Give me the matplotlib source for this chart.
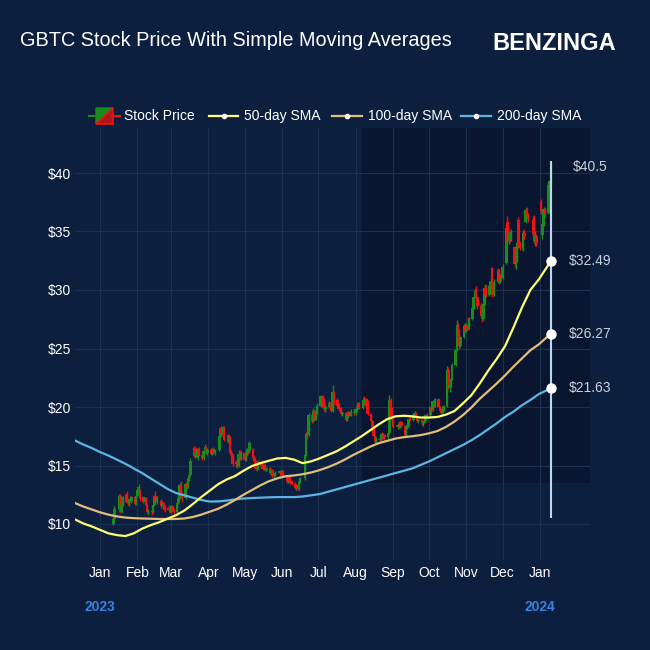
import matplotlib
matplotlib.use("Agg")
import matplotlib.pyplot as plt
import matplotlib.dates as mdates
import matplotlib.patches as mpatches
import pandas as pd

plt.rcParams['font.family'] = ['Liberation Sans', 'DejaVu Sans']

# ---------------- DATA ----------------
HOLIDAYS = ['2023-01-16', '2023-02-20', '2023-04-07', '2023-05-29', '2023-06-19',
            '2023-07-04', '2023-09-04', '2023-11-23', '2023-12-25', '2024-01-01']

# daily candles (open, high, low, close)
c2301 = [(10.0, 10.6, 9.9, 10.4), (10.4, 11.5, 10.3, 11.3), (11.3, 12.6, 11.2, 12.4), (12.4, 12.6, 10.9, 11.0),
         (11.0, 11.7, 10.9, 11.6), (11.6, 12.4, 11.5, 12.3), (12.6, 12.8, 11.8, 11.9), (11.9, 12.1, 11.6, 11.8),
         (11.8, 12.2, 11.5, 12.1), (12.1, 12.4, 11.9, 12.0), (12.0, 12.4, 11.8, 12.3), (12.3, 12.4, 11.6, 11.7),
         (11.7, 12.5, 11.6, 12.4)]
c2302 = [(12.4, 13.0, 12.3, 12.9), (12.9, 13.4, 12.7, 13.2), (12.9, 13.0, 12.0, 12.1), (12.3, 12.4, 11.8, 11.9),
         (11.9, 12.3, 11.8, 12.2), (12.2, 12.3, 11.5, 11.6), (11.6, 11.7, 10.9, 11.0), (11.0, 11.3, 10.8, 11.1),
         (11.1, 11.5, 10.8, 11.0), (11.0, 11.7, 10.9, 11.6), (11.6, 12.5, 11.5, 12.4), (12.4, 12.8, 11.8, 11.9),
         (11.9, 12.4, 11.7, 12.3), (12.0, 12.1, 11.4, 11.5), (11.5, 11.9, 11.3, 11.8), (11.8, 11.9, 11.3, 11.4),
         (11.4, 11.6, 11.0, 11.1), (11.4, 11.6, 11.0, 11.2), (11.2, 11.5, 10.9, 11.0)]
c2303 = [(11.0, 11.6, 10.9, 11.5), (11.5, 11.6, 11.1, 11.2), (11.2, 11.4, 10.8, 11.0), (11.0, 11.9, 10.9, 11.8),
         (11.8, 12.4, 11.7, 12.2), (12.2, 13.5, 12.1, 13.3), (13.3, 13.7, 12.4, 12.5), (12.5, 12.7, 11.9, 12.2),
         (12.2, 13.6, 12.1, 13.4), (13.4, 13.8, 13.0, 13.2), (13.2, 14.0, 13.1, 13.9), (13.9, 14.4, 13.7, 14.2),
         (14.2, 15.6, 14.1, 15.4), (16.5, 16.7, 15.7, 15.8), (15.8, 16.2, 15.6, 16.0), (16.4, 16.6, 15.9, 16.0),
         (15.6, 16.5, 15.5, 16.4), (16.4, 16.6, 15.8, 15.9), (15.9, 16.0, 15.5, 15.6), (15.6, 16.3, 15.5, 16.2),
         (16.2, 16.8, 16.1, 16.6), (16.6, 16.7, 16.0, 16.1), (16.1, 16.5, 15.9, 16.3)]
c2304 = [(16.3, 16.5, 15.9, 16.0), (16.0, 16.5, 15.9, 16.4), (16.4, 16.6, 16.0, 16.1), (16.1, 16.4, 15.9, 16.3),
         (16.3, 17.6, 16.2, 17.5), (17.5, 18.4, 17.4, 18.2), (18.2, 18.3, 17.6, 17.8), (17.8, 18.4, 17.7, 18.3),
         (18.3, 18.4, 17.1, 17.2), (17.6, 17.7, 16.9, 17.0), (17.0, 17.6, 16.9, 17.4), (17.4, 17.5, 16.0, 16.1),
         (16.1, 16.3, 15.8, 15.9), (15.9, 16.0, 15.0, 15.1), (15.1, 15.5, 14.9, 15.3), (15.3, 15.4, 14.8, 15.0),
         (15.0, 16.3, 14.9, 16.0), (16.0, 16.3, 15.5, 15.6), (15.6, 16.2, 15.5, 16.1)]
c2305 = [(16.1, 16.2, 15.4, 15.5), (15.5, 16.1, 15.4, 16.0), (16.0, 16.5, 15.9, 16.4), (16.4, 16.5, 16.0, 16.2),
         (16.2, 17.1, 16.1, 16.9), (16.4, 16.5, 15.5, 15.6), (15.6, 15.8, 15.2, 15.4), (15.4, 15.5, 14.6, 14.7),
         (14.7, 15.0, 14.5, 14.8), (14.8, 15.5, 14.7, 15.3), (15.3, 15.5, 14.9, 15.0), (15.0, 15.1, 14.6, 14.7),
         (14.7, 15.1, 14.6, 15.0), (15.0, 15.1, 14.5, 14.6), (14.6, 14.9, 14.5, 14.8), (14.8, 14.9, 14.3, 14.4),
         (14.4, 14.7, 14.2, 14.6), (14.6, 14.7, 14.0, 14.1), (14.1, 14.3, 13.9, 14.2), (14.2, 14.5, 14.1, 14.4),
         (14.4, 14.6, 14.2, 14.5), (14.5, 14.6, 14.1, 14.2)]
c2306 = [(14.2, 14.6, 14.1, 14.5), (14.5, 14.6, 14.0, 14.1), (14.1, 14.2, 13.5, 13.6), (13.6, 14.1, 13.5, 14.0),
         (14.0, 14.1, 13.6, 13.7), (13.7, 13.9, 13.4, 13.5), (13.5, 13.8, 13.3, 13.4), (13.4, 13.6, 13.0, 13.1),
         (13.1, 13.4, 12.9, 13.3), (13.3, 13.4, 12.9, 13.0), (13.0, 13.8, 12.9, 13.7), (13.7, 14.0, 13.5, 13.9),
         (13.9, 16.0, 13.8, 15.9), (15.9, 17.9, 15.8, 17.7), (17.7, 18.2, 17.3, 17.6), (17.6, 19.5, 17.5, 19.3),
         (19.3, 19.5, 18.6, 18.8), (18.8, 19.9, 18.7, 19.7), (19.7, 19.8, 18.9, 19.0), (19.0, 19.8, 18.9, 19.6),
         (19.6, 20.3, 19.4, 20.1)]
c2307 = [(20.1, 21.0, 20.0, 20.9), (20.9, 21.0, 19.9, 20.0), (20.6, 20.8, 19.7, 19.8), (19.8, 20.2, 19.6, 20.0),
         (20.0, 20.5, 19.9, 20.3), (20.3, 20.4, 19.8, 20.0), (20.0, 20.2, 19.6, 19.7), (19.7, 21.9, 19.6, 21.3),
         (21.3, 21.4, 20.2, 20.4), (20.6, 20.8, 20.0, 20.1), (20.1, 20.3, 19.7, 19.8), (19.8, 20.0, 19.5, 19.9),
         (19.9, 20.0, 19.3, 19.4), (19.4, 19.7, 19.2, 19.5), (19.5, 19.6, 18.8, 18.9), (18.9, 19.4, 18.8, 19.2),
         (19.2, 19.7, 19.1, 19.6), (19.6, 19.7, 19.2, 19.3), (19.3, 19.8, 19.2, 19.6), (19.6, 19.8, 19.3, 19.5)]
c2308 = [(19.5, 19.9, 19.3, 19.8), (19.8, 20.2, 19.6, 20.0), (20.0, 20.4, 19.8, 20.3), (20.3, 20.4, 19.8, 19.9),
         (19.9, 20.7, 19.8, 20.6), (20.8, 20.9, 20.2, 20.3), (20.3, 20.8, 20.2, 20.7), (20.7, 20.8, 20.0, 20.1),
         (20.1, 20.6, 19.3, 19.4), (19.4, 19.5, 18.7, 18.8), (18.8, 18.9, 18.2, 18.3), (18.3, 18.4, 17.4, 17.5),
         (17.5, 17.6, 16.9, 17.0), (17.0, 17.4, 16.9, 17.3), (17.3, 17.5, 17.0, 17.2), (17.2, 17.8, 17.1, 17.7),
         (17.7, 17.9, 17.3, 17.4), (17.4, 17.8, 17.3, 17.6), (17.6, 17.7, 17.2, 17.4), (17.4, 17.9, 17.3, 17.8),
         (17.8, 21.0, 17.7, 20.6), (20.6, 20.8, 19.8, 19.9), (19.9, 20.0, 18.8, 18.9)]
c2309 = [(18.9, 19.0, 18.2, 18.3), (18.3, 18.6, 18.1, 18.5), (18.5, 18.7, 18.2, 18.3), (18.3, 18.8, 18.2, 18.7),
         (18.7, 18.8, 18.3, 18.4), (18.4, 18.5, 17.5, 17.6), (17.6, 18.4, 17.5, 18.2), (18.2, 18.6, 18.1, 18.5),
         (18.5, 19.1, 18.4, 19.0), (19.0, 19.2, 18.8, 18.9), (18.9, 19.5, 18.8, 19.3), (19.3, 19.7, 19.2, 19.5),
         (19.5, 19.6, 19.1, 19.2), (19.2, 19.3, 18.7, 18.8), (18.8, 19.0, 18.6, 18.9), (18.9, 19.0, 18.5, 18.6),
         (18.6, 18.8, 18.4, 18.7), (18.7, 19.0, 18.6, 18.8), (18.8, 19.4, 18.7, 19.3), (19.3, 19.5, 19.1, 19.2)]
c2310 = [(19.3, 20.1, 19.2, 20.0), (20.0, 20.1, 19.7, 19.8), (19.8, 20.6, 19.7, 20.5), (20.5, 20.6, 20.0, 20.1),
         (20.1, 20.8, 20.0, 20.7), (20.7, 20.8, 19.9, 20.0), (20.0, 20.1, 19.6, 19.7), (19.7, 19.8, 19.4, 19.5),
         (19.5, 19.9, 19.4, 19.8), (19.8, 20.2, 19.7, 20.1), (20.1, 23.5, 20.0, 23.2), (23.2, 23.4, 21.5, 21.6),
         (21.6, 22.0, 21.3, 21.8), (21.8, 22.5, 21.7, 22.4), (22.4, 23.8, 22.3, 23.6), (23.6, 25.1, 23.5, 24.9),
         (24.9, 27.4, 24.8, 27.0), (27.0, 27.2, 25.8, 26.0), (26.6, 26.7, 25.0, 25.2), (25.2, 26.1, 25.1, 26.0),
         (26.0, 27.1, 25.9, 26.9), (26.9, 27.2, 26.3, 26.5)]
c2311 = [(26.5, 27.2, 26.4, 27.0), (27.0, 27.7, 26.6, 26.8), (26.8, 27.7, 26.7, 27.5), (27.5, 28.7, 27.4, 28.5),
         (28.5, 29.6, 28.4, 29.4), (29.4, 30.1, 29.3, 29.9), (30.1, 30.3, 29.2, 29.4), (29.4, 29.5, 28.4, 28.6),
         (28.6, 28.9, 27.6, 27.8), (27.8, 28.0, 27.3, 27.5), (27.5, 29.0, 27.4, 28.8), (28.8, 30.5, 28.7, 30.2),
         (30.2, 30.4, 29.4, 29.6), (29.6, 30.5, 29.5, 30.3), (30.3, 31.0, 30.1, 30.8), (31.9, 32.0, 29.4, 29.6),
         (29.6, 30.9, 29.5, 30.7), (30.7, 31.9, 30.6, 31.7), (31.7, 31.8, 30.5, 30.7), (30.7, 31.4, 30.6, 31.2),
         (31.2, 31.6, 30.8, 31.0)]
c2312 = [(31.0, 32.2, 30.9, 32.0), (32.3, 35.6, 32.2, 35.3), (35.8, 36.3, 34.0, 34.2), (34.2, 35.0, 33.9, 34.8),
         (34.8, 35.1, 34.1, 34.3), (34.3, 35.2, 34.2, 35.0), (33.7, 33.8, 32.0, 32.2), (32.2, 32.8, 31.8, 32.5),
         (32.5, 34.2, 32.4, 34.0), (36.0, 36.2, 33.6, 33.8), (33.8, 34.2, 33.4, 33.6), (33.4, 35.1, 33.3, 34.9),
         (34.9, 35.2, 34.4, 34.6), (35.8, 37.0, 35.7, 36.8), (36.8, 37.1, 36.2, 36.4), (36.4, 36.6, 35.8, 36.0),
         (36.0, 36.3, 34.6, 34.8), (36.2, 36.4, 34.0, 34.2), (34.2, 35.0, 33.8, 34.6), (34.6, 34.8, 33.8, 34.0)]
c2401 = [(37.5, 37.8, 36.5, 36.7), (34.7, 35.8, 34.4, 35.6), (35.6, 37.1, 35.5, 36.9), (36.9, 37.0, 36.3, 36.6),
         (36.6, 39.2, 36.5, 39.0), (38.0, 39.5, 37.6, 39.3), (39.3, 40.9, 39.0, 40.5)]

MONTHS = [("2023-01-12", "2023-01-31", c2301), ("2023-02-01", "2023-02-28", c2302),
          ("2023-03-01", "2023-03-31", c2303), ("2023-04-01", "2023-04-30", c2304),
          ("2023-05-01", "2023-05-31", c2305), ("2023-06-01", "2023-06-30", c2306),
          ("2023-07-01", "2023-07-31", c2307), ("2023-08-01", "2023-08-31", c2308),
          ("2023-09-01", "2023-09-30", c2309), ("2023-10-01", "2023-10-31", c2310),
          ("2023-11-01", "2023-11-30", c2311), ("2023-12-01", "2023-12-31", c2312),
          ("2024-01-01", "2024-01-10", c2401)]

# simple moving averages, sampled weekly from 2022-12-11, plus the last day 2024-01-10
sma50 = [10.4, 10.05, 9.8, 9.5, 9.2, 9.05, 8.97, 9.2, 9.6, 9.9,
         10.15, 10.45, 10.75, 11.15, 11.7, 12.3, 12.85, 13.4, 13.8, 14.1,
         14.55, 14.95, 15.2, 15.4, 15.6, 15.65, 15.5, 15.2, 15.35, 15.6,
         15.9, 16.2, 16.6, 17.05, 17.5, 18.0, 18.5, 18.95, 19.2, 19.25,
         19.2, 19.1, 19.1, 19.15, 19.35, 19.65, 20.3, 21.0, 22.0, 23.1,
         24.1, 25.2, 26.8, 28.5, 30.0, 30.9, 32.0, 32.49]
sma100 = [11.8, 11.5, 11.25, 11.0, 10.8, 10.65, 10.55, 10.5, 10.47, 10.45,
          10.43, 10.43, 10.43, 10.47, 10.6, 10.8, 11.05, 11.3, 11.65, 12.05,
          12.5, 12.9, 13.3, 13.65, 13.9, 14.08, 14.15, 14.25, 14.4, 14.6,
          14.85, 15.15, 15.5, 15.9, 16.25, 16.6, 16.9, 17.1, 17.3, 17.42,
          17.5, 17.6, 17.75, 17.95, 18.3, 18.75, 19.3, 19.95, 20.7, 21.35,
          22.0, 22.7, 23.45, 24.15, 24.85, 25.35, 26.0, 26.27]
sma200 = [17.15, 16.8, 16.5, 16.15, 15.85, 15.5, 15.15, 14.75, 14.35, 13.9,
          13.45, 13.0, 12.65, 12.45, 12.25, 12.05, 11.92, 11.93, 12.0, 12.1,
          12.18, 12.22, 12.25, 12.28, 12.3, 12.3, 12.3, 12.35, 12.45, 12.55,
          12.75, 12.95, 13.15, 13.35, 13.55, 13.75, 13.95, 14.15, 14.35, 14.55,
          14.75, 15.05, 15.35, 15.7, 16.05, 16.4, 16.75, 17.15, 17.6, 18.1,
          18.6, 19.15, 19.6, 20.15, 20.6, 21.1, 21.45, 21.63]
sma_dates = list(pd.date_range("2022-12-11", periods=57, freq="7D")) + [pd.Timestamp("2024-01-10")]

last_close = 40.5
labels_right = ["$40.5", "$32.49", "$26.27", "$21.63"]
month_ticks = pd.date_range("2023-01-01", "2024-01-01", freq="MS")
month_labels = [d.strftime("%b") for d in month_ticks]
year_labels = [("2023", "2023-01-01"), ("2024", "2024-01-01")]
yticks = [10, 15, 20, 25, 30, 35, 40]

# ---------------- STYLE ----------------
BG = "#0c1f3e"
SHADE = "#0a1630"
GRID = "#1b2f4f"
GREEN = "#1b8c1b"
RED = "#f01212"
C50 = "#ffff70"
C100 = "#e3bd7c"
C200 = "#5cb6e2"
W, H = 650, 650

fig = plt.figure(figsize=(6.5, 6.5), dpi=100, facecolor=BG)


def fx(x):
    return x / W


def fy(y):
    return 1 - y / H


ax_l, ax_r, ax_t, ax_b = 75, 590, 128, 560
ax = fig.add_axes([fx(ax_l), fy(ax_b), (ax_r - ax_l) / W, (ax_b - ax_t) / H])
ax.set_facecolor(BG)
for s in ax.spines.values():
    s.set_visible(False)

# axis scaling
jan1 = mdates.date2num(pd.Timestamp("2023-01-01"))
PX_PER_DAY = 440 / 365.0
x0 = jan1 + (ax_l - 100) / PX_PER_DAY
x1 = jan1 + (ax_r - 100) / PX_PER_DAY
PX_PER_USD = 11.7
ylo = 10 - (ax_b - 524) / PX_PER_USD
yhi = 10 + (524 - ax_t) / PX_PER_USD
ax.set_xlim(x0, x1)
ax.set_ylim(ylo, yhi)

# shaded recent region
shade_start = mdates.date2num(pd.Timestamp("2023-08-06"))
ax.add_patch(mpatches.Rectangle((shade_start, 13.5), x1 - shade_start, yhi - 13.5,
                                facecolor=SHADE, edgecolor="none", zorder=0))

# grid
ax.set_xticks([mdates.date2num(d) for d in month_ticks])
ax.set_xticklabels(month_labels)
ax.set_yticks(yticks)
ax.set_yticklabels([f"${v}" for v in yticks])
ax.grid(True, color=GRID, linewidth=0.8, zorder=1)
ax.set_axisbelow(True)
ax.tick_params(axis="both", length=0, colors="white", labelsize=10)
ax.tick_params(axis="y", pad=3)
ax.tick_params(axis="x", pad=4)

# candles
dates, opens, highs, lows, closes = [], [], [], [], []
for start, end, rows in MONTHS:
    ds = pd.bdate_range(start, end, freq="C", holidays=HOLIDAYS)
    for d, (o, h, l, c) in zip(ds, rows):
        dates.append(mdates.date2num(d))
        opens.append(o); highs.append(h); lows.append(l); closes.append(c)

cols = [GREEN if c >= o else RED for o, c in zip(opens, closes)]
ax.vlines(dates, lows, highs, colors=cols, linewidth=1.0, zorder=3)
bottoms = [min(o, c) for o, c in zip(opens, closes)]
heights = [max(abs(c - o), 0.08) for o, c in zip(opens, closes)]
ax.bar(dates, heights, bottom=bottoms, width=2.1, color=cols, linewidth=0, zorder=3)

# moving averages
sd = [mdates.date2num(d) for d in sma_dates]
ax.plot(sd, sma200, color=C200, lw=1.6, zorder=4, solid_capstyle="round")
ax.plot(sd, sma100, color=C100, lw=1.6, zorder=4, solid_capstyle="round")
ax.plot(sd, sma50, color=C50, lw=1.6, zorder=4, solid_capstyle="round")

# vertical marker line at last date
xl = sd[-1]
ax.plot([xl, xl], [10.5, 41.0], color="#bcd6ec", lw=1.5, zorder=5, solid_capstyle="butt")
ax.plot([xl] * 3, [sma50[-1], sma100[-1], sma200[-1]], "o", ms=6.5, color="white",
        markeredgecolor="white", zorder=6)

# right-hand labels
for lab, val in zip(labels_right, [last_close, sma50[-1], sma100[-1], sma200[-1]]):
    ax.text(x1, val, lab, color="#c9d1dc", fontsize=10, ha="center", va="center",
            clip_on=False, zorder=7)

# year labels
for lab, d in year_labels:
    xd = mdates.date2num(pd.Timestamp(d))
    xp = ax_l + (xd - x0) * PX_PER_DAY
    fig.text(fx(xp), fy(607), lab, color="#3b7fe0", fontsize=10, fontweight="bold",
             ha="center", va="center")

# title + brand
fig.text(fx(20), fy(41), "GBTC Stock Price With Simple Moving Averages", color="white",
         fontsize=14.3, ha="left", va="center")
fig.text(fx(554), fy(44), "BENZINGA", color="white", fontsize=17, fontweight="bold",
         ha="center", va="center")

# legend (drawn manually)
ly = 116
fig.add_artist(plt.Line2D([fx(89), fx(97)], [fy(ly), fy(ly)], color=GREEN, lw=1.5,
                          transform=fig.transFigure))
fig.add_artist(plt.Line2D([fx(112), fx(120)], [fy(ly), fy(ly)], color=RED, lw=1.5,
                          transform=fig.transFigure))
fig.add_artist(mpatches.Polygon([(fx(96), fy(108)), (fx(113), fy(108)), (fx(96), fy(124))],
                                closed=True, facecolor=GREEN, edgecolor=GREEN, lw=1,
                                transform=fig.transFigure))
fig.add_artist(mpatches.Polygon([(fx(113), fy(108)), (fx(113), fy(124)), (fx(96), fy(124))],
                                closed=True, facecolor="#b01818", edgecolor=RED, lw=1.2,
                                transform=fig.transFigure))
fig.text(fx(124), fy(ly), "Stock Price", color="white", fontsize=10, ha="left", va="center")
for (a, b, col, lab) in [(209, 238, C50, "50-day SMA"), (332, 362, C100, "100-day SMA"),
                         (461, 491, C200, "200-day SMA")]:
    fig.add_artist(plt.Line2D([fx(a), fx(b)], [fy(ly), fy(ly)], color=col, lw=1.6,
                              transform=fig.transFigure))
    fig.add_artist(plt.Line2D([fx((a + b) / 2)], [fy(ly)], marker="o", ms=3, color="white",
                              transform=fig.transFigure))
    fig.text(fx(b + 6), fy(ly), lab, color="white", fontsize=10, ha="left", va="center")

fig.savefig("out.png", dpi=100, facecolor=BG)
